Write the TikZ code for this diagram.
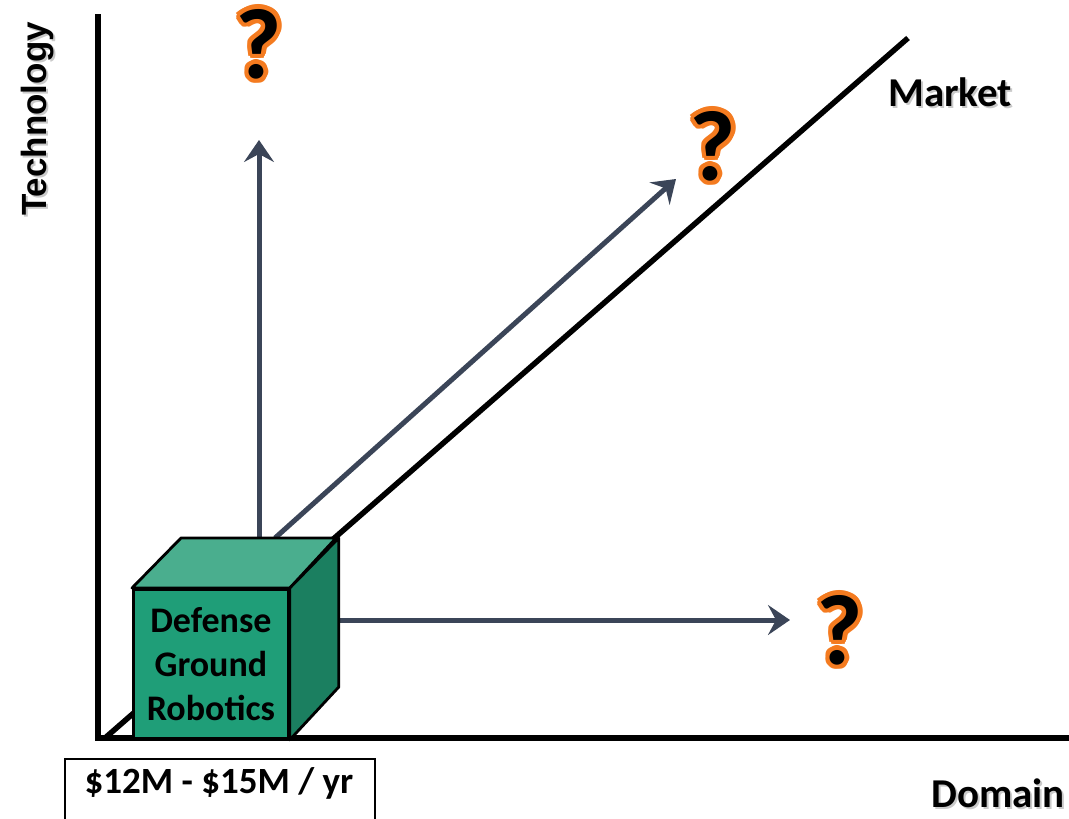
\documentclass[tikz,border=0pt]{standalone}
\usepackage{fontspec}
\newfontfamily\calb{Carlito}[BoldFont=* Bold]
\newfontfamily\arib{Liberation Sans}[BoldFont=* Bold]
\usetikzlibrary{arrows.meta,calc}
\definecolor{arrowc}{HTML}{3B4558}
\definecolor{frontc}{HTML}{1F9E78}
\definecolor{topc}{HTML}{4AAE8E}
\definecolor{sidec}{HTML}{1B7F60}
\definecolor{qorange}{HTML}{F47B20}
\tikzset{
  axisline/.style={line width=5.5pt, line cap=butt},
  flowarrow/.style={draw=arrowc, line width=5pt, -{Stealth[length=22pt,width=30pt,inset=8pt]}},
  cubeface/.style={draw=black, line width=2.8pt, line join=round},
  lbl/.style={font=\calb\bfseries\fontsize{41}{48}\selectfont, inner sep=0pt},
  shadowlbl/.style={text=black!35, opacity=0.6},
  qmark/.style={font=\calb\bfseries\fontsize{100}{110}\selectfont, inner sep=0pt},
}
\newcommand{\qm}[2]{%
  \foreach \a in {0,30,...,330} \node[qmark, text=qorange] at ($(#2)+(\a:4.5pt)$) {?};
  \node[qmark, text=black] (#1) at (#2) {?};}
\begin{document}
\begin{tikzpicture}[x=1pt,y=-1pt]
\useasboundingbox (0,0) rectangle (1069,819);
% coordinates
\coordinate (O) at (98,738);
\coordinate (ytop) at (98,14);
\coordinate (xend) at (1069,738);
\coordinate (mstart) at (105,738);
\coordinate (mend) at (908,38);
% axes
\draw[axisline] (ytop) -- (O) -- (xend);
% market line
\draw[axisline] (mstart) -- (mend);
% arrows
\coordinate (a1s) at (259,538);
\coordinate (a1e) at (259,140);
\coordinate (a2s) at (275,538);
\coordinate (a2e) at (676,179);
\coordinate (a3s) at (336,620);
\coordinate (a3e) at (790,620);
\draw[flowarrow] (a1s) -- (a1e);
\draw[flowarrow] (a2s) -- (a2e);
\draw[flowarrow] (a3s) -- (a3e);
% cube
\node[cubeface, fill=frontc, minimum width=155pt, minimum height=149pt, inner sep=0pt, anchor=north west,
  align=center, font=\calb\bfseries\fontsize{36}{44}\selectfont] (front) at (132,588)
  {\raisebox{-3pt}{\parbox{150pt}{\centering Defense\\Ground\\Robotics}}};
\draw[cubeface, fill=topc] (front.north west) -- ++(49,-50) -- ++(155,0) -- (front.north east) -- cycle;
\draw[cubeface, fill=sidec] (front.north east) -- ++(49,-50) -- ++(0,149) -- (front.south east) -- cycle;
% question marks
\coordinate (q1p) at (259,44);
\coordinate (q2p) at (713,146);
\coordinate (q3p) at (840,630);
\qm{q1}{q1p}
\qm{q2}{q2p}
\qm{q3}{q3p}
% labels
\node[lbl, shadowlbl, anchor=base west] at (890,108) {Market};
\node[lbl, anchor=base west] (market) at (888,106) {Market};
\node[lbl, shadowlbl, anchor=base west] at (933,809) {Domain};
\node[lbl, anchor=base west] (domain) at (931,807) {Domain};
\node[inner sep=0pt, font=\arib\bfseries\fontsize{35}{40}\selectfont, rotate=90, text=black!35, opacity=0.6] at (39.5,121) {Technology};
\node[inner sep=0pt, font=\arib\bfseries\fontsize{35}{40}\selectfont, rotate=90] (tech) at (37.5,119) {Technology};
% revenue box
\draw[line width=1.5pt] (65,830) |- (375,759) -- (375,830);
\node[inner sep=0pt, anchor=base, font=\calb\bfseries\fontsize{37}{44}\selectfont] (rev) at (219,793) {\$12M - \$15M / yr};
\end{tikzpicture}
\end{document}
